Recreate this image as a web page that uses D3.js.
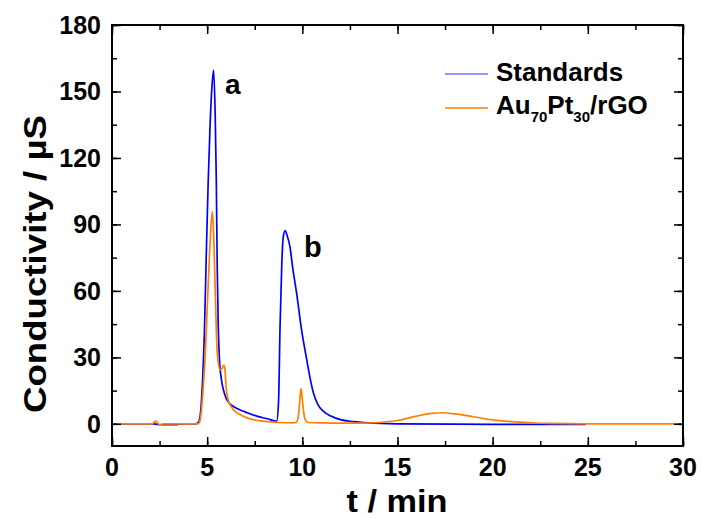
<!DOCTYPE html>
<html><head><meta charset="utf-8">
<script src="https://cdn.jsdelivr.net/npm/d3@7"></script>
<style>body{margin:0;background:#fff;} text{font-family:Arial,"Liberation Sans",sans-serif;font-weight:bold;}</style>
</head><body>
<svg id="c" width="702" height="519"></svg>
<script>
const xTicks = [0,5,10,15,20,25,30];
const yTicks = [0,30,60,90,120,150,180];
const seriesNames = ["Standards","Au70Pt30/rGO"];
const colors = ["#0000ff","#ff8000"];

const stdT = [0,2.0,2.2,2.4,2.6,3.4,3.6,4.4,4.55,4.65,4.75,4.85,4.95,5.05,5.15,5.25,5.34,5.42,5.48,5.53,5.58,5.64,5.75,5.85,6.0,6.2,6.4,6.8,7.1,7.6,8.2,8.65,8.75,8.83,8.92,9.0,9.1,9.2,9.35,9.5,9.7,9.95,10.23,10.4,10.58,10.8,11.1,11.5,12.0,12.7,13.4,15,20,24.9];
const stdV = [0,0,0,-0.3,-0.4,-0.4,0,0,0.8,5,18,40,75,108,134,152,159.6,140,110,70,45,30,20,15.5,11.5,9,7.7,6,5,3.5,2.2,1.2,10,44,72,84.5,87.2,85,80,70,59,43,29,21,14,9,5.7,3.5,1.9,1.0,0.4,0,-0.2,-0.2];

const auT = [0,2.1,2.2,2.3,2.4,2.5,2.7,4.5,4.6,4.7,4.8,4.9,5.0,5.08,5.18,5.27,5.33,5.38,5.44,5.5,5.58,5.68,5.78,5.88,5.94,6.0,6.1,6.25,6.4,6.7,7.1,7.6,8.2,8.8,9.5,9.7,9.8,9.87,9.93,9.99,10.06,10.15,10.3,11,12,13,14,15,16,16.8,17.3,18,19,20,21,22,23,25,30];
const auV = [0,0,0.6,1.2,0.4,-0.4,0,0,0.8,6,17,31,52,68,86,95.8,88,74,55,37,28,24.5,25,26.5,24,16,11,8,6.2,4.3,2.7,1.6,1,0.6,0.4,0.8,4,11,15.9,12,6,2,0.6,0.4,0.3,0.3,0.6,1.5,3.5,4.7,5,4.5,3.2,1.8,1,0.5,0.2,0,0];

const svg = d3.select("#c");
const L=112, T=25, R=683, B=446;
const x = d3.scaleLinear().domain([0,30]).range([L,R]);
const y = d3.scaleLinear().domain([-10,180]).range([B,T]);

const line = d3.line().x(d=>x(d[0])).y(d=>y(d[1])).curve(d3.curveMonotoneX);
const series = [d3.zip(stdT,stdV), d3.zip(auT,auV)];
svg.append("defs").append("clipPath").attr("id","clip").append("rect").attr("x",L).attr("y",T).attr("width",R-L).attr("height",B-T);
const g = svg.append("g").attr("clip-path","url(#clip)");
series.forEach((s,i)=>{
  g.append("path").datum(s).attr("d",line).attr("fill","none").attr("stroke",colors[i]).attr("stroke-width",1.7);
});

// axes with inward ticks
const xMinor = d3.range(0,30.01,2.5);
const yMinor = d3.range(0,180.01,15);
function addAxis(axisGen, tr){ return svg.append("g").attr("transform",tr).call(axisGen).call(g=>g.select(".domain").remove()); }
addAxis(d3.axisBottom(x).tickValues(xMinor).tickSize(-5).tickFormat(""),`translate(0,${B})`);
addAxis(d3.axisBottom(x).tickValues(xTicks).tickSize(-9).tickFormat(""),`translate(0,${B})`);
addAxis(d3.axisTop(x).tickValues(xMinor).tickSize(-5).tickFormat(""),`translate(0,${T})`);
addAxis(d3.axisTop(x).tickValues(xTicks).tickSize(-9).tickFormat(""),`translate(0,${T})`);
addAxis(d3.axisLeft(y).tickValues(yMinor).tickSize(-5).tickFormat(""),`translate(${L},0)`);
addAxis(d3.axisLeft(y).tickValues(yTicks).tickSize(-9).tickFormat(""),`translate(${L},0)`);
addAxis(d3.axisRight(y).tickValues(yMinor).tickSize(-5).tickFormat(""),`translate(${R},0)`);
addAxis(d3.axisRight(y).tickValues(yTicks).tickSize(-9).tickFormat(""),`translate(${R},0)`);
svg.selectAll(".tick line").attr("stroke","#000").attr("stroke-width",1.5);
svg.append("rect").attr("x",L).attr("y",T).attr("width",R-L).attr("height",B-T).attr("fill","none").attr("stroke","#000").attr("stroke-width",2);

// tick labels
svg.selectAll(".xl").data(xTicks).enter().append("text").attr("x",d=>x(d)).attr("y",476).attr("text-anchor","middle").attr("font-size",25).text(d=>d);
svg.selectAll(".yl").data(yTicks).enter().append("text").attr("x",101).attr("y",d=>y(d)+9).attr("text-anchor","end").attr("font-size",25).text(d=>d);

// axis titles
svg.append("text").attr("x",397).attr("y",512).attr("text-anchor","middle").attr("font-size",32)
  .attr("textLength",101).attr("lengthAdjust","spacingAndGlyphs").text("t / min");
svg.append("text").attr("transform","translate(46,264) rotate(-90)").attr("text-anchor","middle").attr("font-size",31)
  .attr("textLength",298).attr("lengthAdjust","spacingAndGlyphs").text("Conductivity / µS");

// peak labels
svg.append("text").attr("x",225).attr("y",94).attr("font-size",28).text("a");
svg.append("text").attr("x",304).attr("y",257).attr("font-size",29).text("b");

// legend
const leg = svg.append("g");
leg.append("line").attr("x1",445).attr("x2",488).attr("y1",74).attr("y2",74).attr("stroke",colors[0]).attr("stroke-width",1.6).attr("opacity",0.55);
leg.append("line").attr("x1",445).attr("x2",488).attr("y1",108).attr("y2",108).attr("stroke",colors[1]).attr("stroke-width",1.6);
leg.append("text").attr("x",496).attr("y",81).attr("font-size",26).text(seriesNames[0]);
const t2 = leg.append("text").attr("x",496).attr("y",114).attr("font-size",26);
t2.append("tspan").text("Au");
t2.append("tspan").attr("font-size",15).attr("dy",8).text("70");
t2.append("tspan").attr("dy",-8).text("Pt");
t2.append("tspan").attr("font-size",15).attr("dy",8).text("30");
t2.append("tspan").attr("dy",-8).text("/rGO");
</script>
</body></html>
